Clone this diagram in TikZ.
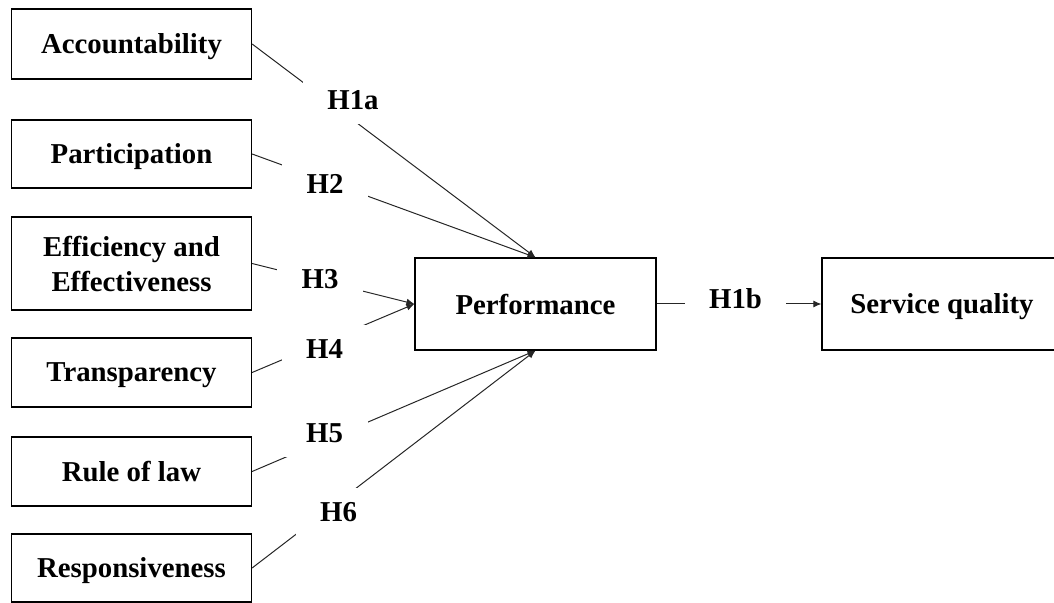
\documentclass[tikz,border=0pt]{standalone}
\usepackage{fontspec}
\setmainfont{Liberation Serif}
\usetikzlibrary{arrows.meta, positioning}

\begin{document}
\begin{tikzpicture}[
    x=0.5pt, y=-0.5pt,
    box_node/.style={rectangle, draw=black, line width=0.6pt, fill=white, minimum width=120pt, minimum height=34.5pt, text depth=0pt, align=center, font=\fontsize{14.4pt}{17.5pt}\selectfont\bfseries},
    hyp_node/.style={rectangle, fill=white, inner sep=0pt, minimum width=43pt, minimum height=24pt, font=\fontsize{14.4pt}{17.5pt}\selectfont\bfseries},
    arrow/.style={-{Latex[length=4pt, width=3.5pt]}, line width=0.5pt, draw=black!85}
]
\useasboundingbox (0,0) rectangle (1054,603);

% Governance dimensions
\node[box_node, minimum height=35pt] (accountability) at (131.5,44) {Accountability};
\node[box_node, minimum height=34pt] (participation) at (131.5,154) {Participation};
\node[box_node, minimum height=46.5pt] (efficiency) at (131.5,263.5) {Efficiency and\\Effectiveness};
\node[box_node] (transparency) at (131.5,372.5) {Transparency};
\node[box_node] (ruleoflaw) at (131.5,471.5) {Rule of law};
\node[box_node, minimum height=34pt] (responsiveness) at (131.5,568) {Responsiveness};

% Mediator and outcome
\node[box_node, minimum width=120.5pt, minimum height=46pt] (performance) at (535.5,304) {Performance};
\node[box_node, minimum height=46pt] (service) at (942,304) {Service quality};

% Connections
\draw[arrow] (accountability.east) -- (performance.north);
\draw[arrow] (participation.east) -- (performance.north);
\draw[arrow] (efficiency.east) -- (performance.west);
\draw[arrow] (transparency.east) -- (performance.west);
\draw[arrow] (ruleoflaw.east) -- (performance.south);
\draw[arrow] (responsiveness.east) -- (performance.south);
\draw[arrow] (performance) -- (service);

% Hypotheses
\node[hyp_node, minimum width=50pt] (h1a) at (353,100) {H1a};
\node[hyp_node] (h2) at (325,183.5) {H2};
\node[hyp_node] (h3) at (320,279) {H3};
\node[hyp_node] (h4) at (324.5,349) {H4};
\node[hyp_node] (h5) at (324.5,433) {H5};
\node[hyp_node] (h6) at (338.5,512.5) {H6};
\node[hyp_node, minimum width=50.5pt] (h1b) at (735.5,299) {H1b};

\end{tikzpicture}
\end{document}
